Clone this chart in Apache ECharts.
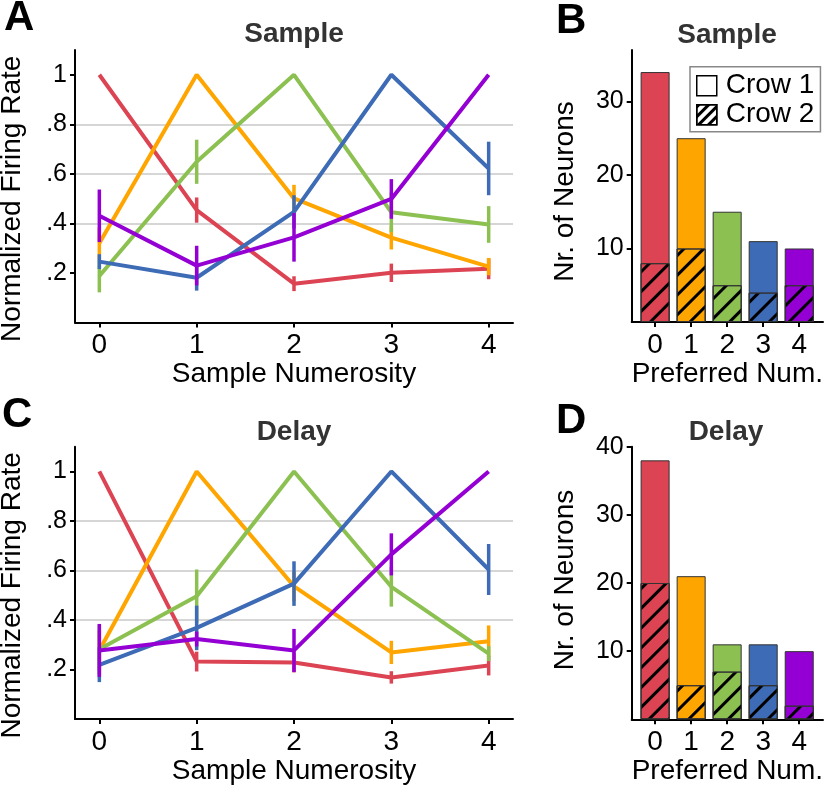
<!DOCTYPE html>
<html>
<head>
<meta charset="utf-8">
<script src="https://cdn.jsdelivr.net/npm/echarts@6/dist/echarts.min.js"></script>
<style>
html,body{margin:0;padding:0;background:#fff;}
#chart{width:826px;height:789px;}
</style>
</head>
<body>
<div id="chart"></div>
<script>
// ---------- data ----------
const numerosity = [0, 1, 2, 3, 4];
const numLabels = ['0', '1', '2', '3', '4'];
const rateTicks = [0.2, 0.4, 0.6, 0.8, 1.0];
const rateTickLabels = ['.2', '.4', '.6', '.8', '1'];
const countTicksB = [10, 20, 30];
const countTicksD = [10, 20, 30, 40];
const prefNames = ['Pref 0', 'Pref 1', 'Pref 2', 'Pref 3', 'Pref 4'];
const prefColors = ['#DC4454', '#FFA500', '#8CC152', '#3D6BB5', '#9400D3'];

// Panel A: Sample period, normalized firing rate (mean, sem)
const sampleMean0 = [1.00, 0.454, 0.157, 0.201, 0.217];
const sampleErr0  = [0.00, 0.051, 0.030, 0.037, 0.042];
const sampleMean1 = [0.320, 1.00, 0.501, 0.343, 0.226];
const sampleErr1  = [0.065, 0.00, 0.055, 0.048, 0.035];
const sampleMean2 = [0.188, 0.649, 1.00, 0.445, 0.396];
const sampleErr2  = [0.066, 0.089, 0.00, 0.080, 0.074];
const sampleMean3 = [0.246, 0.181, 0.447, 1.00, 0.622];
const sampleErr3  = [0.030, 0.052, 0.067, 0.00, 0.108];
const sampleMean4 = [0.431, 0.230, 0.344, 0.499, 1.00];
const sampleErr4  = [0.106, 0.080, 0.098, 0.080, 0.00];

// Panel C: Delay period
const delayMean0 = [1.00, 0.232, 0.228, 0.168, 0.216];
const delayErr0  = [0.00, 0.040, 0.040, 0.025, 0.040];
const delayMean1 = [0.277, 1.00, 0.536, 0.269, 0.314];
const delayErr1  = [0.080, 0.00, 0.060, 0.047, 0.064];
const delayMean2 = [0.282, 0.496, 1.00, 0.534, 0.264];
const delayErr2  = [0.100, 0.108, 0.00, 0.080, 0.030];
const delayMean3 = [0.219, 0.368, 0.547, 1.00, 0.604];
const delayErr3  = [0.070, 0.090, 0.090, 0.00, 0.103];
const delayMean4 = [0.277, 0.323, 0.277, 0.665, 1.00];
const delayErr4  = [0.107, 0.030, 0.087, 0.085, 0.00];

// Panel B / D: number of neurons (totals and Crow 2 part)
const sampleTotal = [34, 25, 15, 11, 10];
const sampleCrow2 = [8, 10, 5, 4, 5];
const delayTotal  = [38, 21, 11, 11, 10];
const delayCrow2  = [20, 5, 7, 5, 2];

// ---------- styling ----------
const FONT = "'Liberation Sans', Arial, sans-serif";
const hatch = {
  symbol: 'rect', symbolSize: 1, color: '#000',
  dashArrayX: [1, 0], dashArrayY: [3, 11], rotation: -Math.PI / 4
};

const sampleMeans = [sampleMean0, sampleMean1, sampleMean2, sampleMean3, sampleMean4];
const sampleErrs  = [sampleErr0, sampleErr1, sampleErr2, sampleErr3, sampleErr4];
const delayMeans  = [delayMean0, delayMean1, delayMean2, delayMean3, delayMean4];
const delayErrs   = [delayErr0, delayErr1, delayErr2, delayErr3, delayErr4];

function lineAxes(gridIndex) {
  return {
    x: {
      type: 'value', gridIndex, min: -0.25, max: 4.25,
      axisLine: { show: true, onZero: false, lineStyle: { color: '#000', width: 2 } },
      axisTick: { show: true, length: 5, customValues: numerosity, lineStyle: { color: '#000', width: 2 } },
      axisLabel: { customValues: numerosity, formatter: v => numLabels[numerosity.indexOf(v)],
                   fontSize: 28, color: '#000', margin: 9, fontFamily: FONT },
      splitLine: { show: false },
      name: 'Sample Numerosity', nameLocation: 'middle', nameGap: 36,
      nameTextStyle: { fontSize: 28, color: '#000', fontFamily: FONT }
    },
    y: {
      type: 'value', gridIndex, min: 0, max: 1.1, interval: 0.2,
      axisLine: { show: true, onZero: false, lineStyle: { color: '#000', width: 2 } },
      axisTick: { show: true, length: 5, customValues: rateTicks, lineStyle: { color: '#000', width: 2 } },
      axisLabel: { customValues: rateTicks,
                   formatter: v => rateTickLabels[rateTicks.findIndex(t => Math.abs(t - v) < 1e-6)],
                   fontSize: 25, color: '#000', margin: 8, fontFamily: FONT },
      splitLine: { show: true, showMinLine: false, showMaxLine: false,
                   lineStyle: { color: '#d6d6d6', width: 2 } },
      name: 'Normalized Firing Rate', nameLocation: 'middle', nameGap: 49,
      nameTextStyle: { fontSize: 28, color: '#000', fontFamily: FONT, padding: [0, 25, 0, 0] }
    }
  };
}

function barAxes(gridIndex, maxY, ticks, namePad) {
  return {
    x: {
      type: 'value', gridIndex, min: -0.65, max: 4.66,
      axisLine: { show: true, onZero: false, lineStyle: { color: '#000', width: 2 } },
      axisTick: { show: true, length: 5, customValues: numerosity, lineStyle: { color: '#000', width: 2 } },
      axisLabel: { customValues: numerosity, formatter: v => numLabels[numerosity.indexOf(v)],
                   fontSize: 28, color: '#000', margin: 9, fontFamily: FONT },
      splitLine: { show: false },
      name: 'Preferred Num.', nameLocation: 'middle', nameGap: 36,
      nameTextStyle: { fontSize: 28, color: '#000', fontFamily: FONT }
    },
    y: {
      type: 'value', gridIndex, min: 0, max: maxY, interval: 10,
      axisLine: { show: true, onZero: false, lineStyle: { color: '#000', width: 2 } },
      axisTick: { show: true, length: 5, customValues: ticks, lineStyle: { color: '#000', width: 2 } },
      axisLabel: { customValues: ticks, fontSize: 25, color: '#000', margin: 8, fontFamily: FONT },
      splitLine: { show: false },
      name: 'Nr. of Neurons', nameLocation: 'middle', nameGap: 52,
      nameTextStyle: { fontSize: 28, color: '#000', fontFamily: FONT, padding: namePad }
    }
  };
}

const aAx = lineAxes(0), bAx = barAxes(1, 37, countTicksB, [0, 11, 0, 0]);
const cAx = lineAxes(2), dAx = barAxes(3, 40, countTicksD, [0, 0, 0, 6]);

const series = [];
function addLinePanel(means, errs, axisIndex) {
  means.forEach((m, k) => {
    series.push({
      type: 'line', name: prefNames[k], xAxisIndex: axisIndex, yAxisIndex: axisIndex,
      data: numerosity.map((x, i) => [x, m[i]]),
      symbol: 'none', lineStyle: { color: prefColors[k], width: 4 },
      itemStyle: { color: prefColors[k] }, z: 2 + k * 0.01
    });
    series.push({
      type: 'custom', name: prefNames[k] + ' err', xAxisIndex: axisIndex, yAxisIndex: axisIndex,
      data: numerosity.map((x, i) => [x, m[i], errs[k][i]]),
      encode: { x: 0, y: 1 },
      z: 2 + k * 0.01,
      renderItem: function (params, api) {
        const x = api.value(0), y = api.value(1), e = api.value(2);
        if (!e) return null;
        const p1 = api.coord([x, y - e]);
        const p2 = api.coord([x, y + e]);
        return { type: 'line', shape: { x1: p1[0], y1: p1[1], x2: p2[0], y2: p2[1] },
                 style: { stroke: prefColors[k], lineWidth: 3.5 } };
      }
    });
  });
}
addLinePanel(sampleMeans, sampleErrs, 0);
addLinePanel(delayMeans, delayErrs, 2);

function addBarPanel(total, crow2, axisIndex) {
  // full bar (Crow 1 + Crow 2), with the Crow 2 part overlaid from the baseline
  series.push({
    type: 'bar', name: 'Crow 1', xAxisIndex: axisIndex, yAxisIndex: axisIndex,
    barWidth: 29, barGap: '-100%',
    data: numerosity.map((x, i) => ({ value: [x, total[i]],
      itemStyle: { color: prefColors[i], borderColor: '#333', borderWidth: 1 } }))
  });
  series.push({
    type: 'bar', name: 'Crow 2', xAxisIndex: axisIndex, yAxisIndex: axisIndex,
    barWidth: 29, barGap: '-100%',
    data: numerosity.map((x, i) => ({ value: [x, crow2[i]],
      itemStyle: { color: prefColors[i], borderColor: '#333', borderWidth: 1, decal: hatch } })),
    itemStyle: { decal: hatch }
  });
}
addBarPanel(sampleTotal, sampleCrow2, 1);
addBarPanel(delayTotal, delayCrow2, 3);

function txt(text, x, y, size, color, align) {
  return { type: 'text', x, y, style: { text, fill: color, font: 'bold ' + size + 'px ' + FONT,
           textAlign: align, textVerticalAlign: 'middle' }, z: 10 };
}

const option = {
  animation: false,
  backgroundColor: '#fff',
  textStyle: { fontFamily: FONT },
  grid: [
    { left: 75, top: 50, width: 438, height: 272.6, outerBoundsMode: 'none', containLabel: false },
    { left: 631.7, top: 50, width: 191.3, height: 272, outerBoundsMode: 'none', containLabel: false },
    { left: 75, top: 446.7, width: 438, height: 272.3, outerBoundsMode: 'none', containLabel: false },
    { left: 631.7, top: 446.7, width: 191.3, height: 272.6, outerBoundsMode: 'none', containLabel: false }
  ],
  xAxis: [aAx.x, bAx.x, cAx.x, dAx.x],
  yAxis: [aAx.y, bAx.y, cAx.y, dAx.y],
  legend: {
    left: 690, top: 66.7, orient: 'vertical', selectedMode: false,
    borderColor: '#888', borderWidth: 1.5, padding: [5, 6, 3, 6],
    itemWidth: 20, itemHeight: 20, itemGap: 1, icon: 'rect',
    textStyle: { fontSize: 28, color: '#000', fontFamily: FONT, padding: [0, 0, 0, 4] },
    data: [
      { name: 'Crow 1', itemStyle: { color: '#fff', borderColor: '#000', borderWidth: 1.5, decal: 'none' } },
      { name: 'Crow 2', itemStyle: { color: '#fff', borderColor: '#000', borderWidth: 1.5,
        decal: { symbol: 'rect', symbolSize: 1, color: '#000', dashArrayX: [1, 0], dashArrayY: [2.5, 4], rotation: -Math.PI / 4 } } }
    ]
  },
  graphic: [
    txt('A', 4, 18, 42, '#000', 'left'),
    txt('B', 556, 21.5, 42, '#000', 'left'),
    txt('C', 2, 415, 42, '#000', 'left'),
    txt('D', 556, 421.5, 42, '#000', 'left'),
    txt('Sample', 294, 34, 28, '#333', 'center'),
    txt('Sample', 727, 35, 28, '#333', 'center'),
    txt('Delay', 294, 432, 28, '#333', 'center'),
    txt('Delay', 726, 432.5, 28, '#333', 'center')
  ],
  series
};

const chart = echarts.init(document.getElementById('chart'), null, { renderer: 'canvas' });
chart.setOption(option);
</script>
</body>
</html>
